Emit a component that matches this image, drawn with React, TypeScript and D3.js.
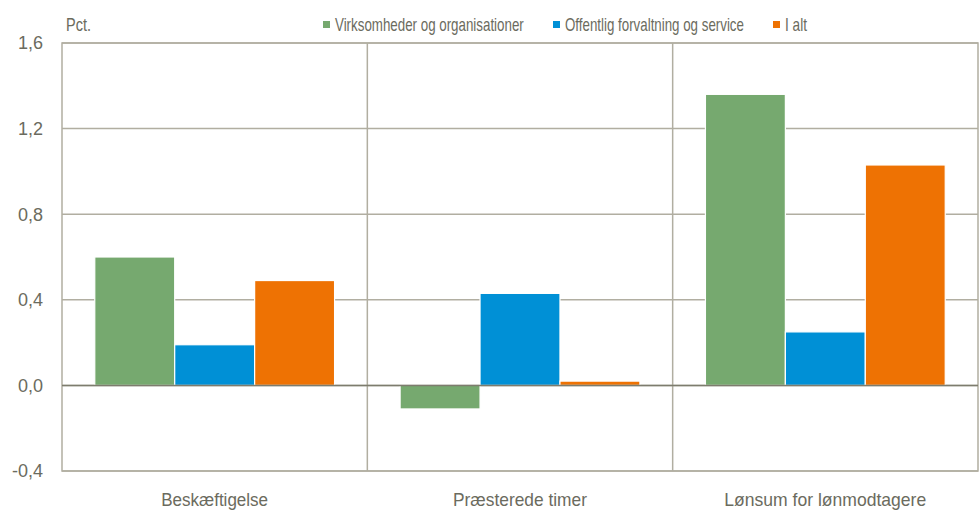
import React, { useEffect, useRef } from 'react';
import * as d3 from 'd3';

// data
const categories = ['Beskæftigelse', 'Præsterede timer', 'Lønsum for lønmodtagere'];
const seriesNames = ['Virksomheder og organisationer', 'Offentlig forvaltning og service', 'I alt'];
const virksomheder = [0.60, -0.11, 1.36];
const offentlig = [0.19, 0.43, 0.25];
const iAlt = [0.49, 0.02, 1.03];
const yTicks = [-0.4, 0, 0.4, 0.8, 1.2, 1.6];
const colors = ['#76a96f', '#0090d6', '#ee7203'];

// the original font is a narrow one, so widths are squeezed to fit
const catWidths = [107, 134, 202];
const legendWidths = [189, 179, 22];

const W = 979;
const H = 520;
const FONT = '"Liberation Sans Narrow", "Arial Narrow", "Liberation Sans", sans-serif';
const TEXT = '#6b6b5e';
const GRID = '#b1aea1';

// squeeze a text (anchored at its left x) horizontally to a given width
function squeeze(node: SVGTextElement, x0: number, width: number) {
  const w = node.getComputedTextLength();
  const k = w > 0 ? width / w : 1;
  node.setAttribute('transform', `translate(${x0},0) scale(${k},1)`);
}

function App() {
  const ref = useRef<SVGSVGElement>(null);

  useEffect(() => {
    const svg = d3.select(ref.current);
    svg.selectAll('*').remove();

    const left = 62, right = 978, top = 43, bottom = 471;
    const values = [virksomheder, offentlig, iAlt];

    const x = d3.scaleBand().domain(categories).range([left, right]).padding(0);
    const xs = d3.scaleBand().domain(seriesNames).range([0, x.bandwidth()])
      .paddingInner(0).paddingOuter(0.41);
    const y = d3.scaleLinear().domain([-0.4, 1.6]).range([bottom, top]);

    // horizontal grid
    svg.append('g').selectAll('line')
      .data(yTicks)
      .enter().append('line')
      .attr('x1', left).attr('x2', right)
      .attr('y1', d => y(d)).attr('y2', d => y(d))
      .attr('stroke', GRID).attr('stroke-width', 1.5);

    // vertical separators
    svg.append('g').selectAll('line')
      .data(categories.slice(1))
      .enter().append('line')
      .attr('x1', d => x(d)!).attr('x2', d => x(d)!)
      .attr('y1', top).attr('y2', bottom)
      .attr('stroke', GRID).attr('stroke-width', 1.5);

    // frame
    svg.append('rect')
      .attr('x', left).attr('y', top)
      .attr('width', right - left).attr('height', bottom - top)
      .attr('fill', 'none').attr('stroke', GRID).attr('stroke-width', 1.5);

    // bars
    seriesNames.forEach((s, si) => {
      svg.append('g').selectAll('rect')
        .data(categories)
        .enter().append('rect')
        .attr('x', (c) => x(c)! + xs(s)!)
        .attr('width', xs.bandwidth())
        .attr('y', (c, i) => y(Math.max(0, values[si][i])))
        .attr('height', (c, i) => Math.abs(y(values[si][i]) - y(0)))
        .attr('fill', colors[si])
        .attr('stroke', '#fff').attr('stroke-width', 1.2);
    });

    // zero line
    svg.append('line')
      .attr('x1', left).attr('x2', right)
      .attr('y1', y(0)).attr('y2', y(0))
      .attr('stroke', '#7d7c6e').attr('stroke-width', 1.5);

    // y tick labels
    svg.append('g').selectAll('text')
      .data(yTicks)
      .enter().append('text')
      .attr('x', 43).attr('y', d => y(d))
      .attr('dy', '0.35em')
      .attr('text-anchor', 'end')
      .attr('font-family', FONT).attr('font-size', 18).attr('fill', TEXT)
      .text(d => d3.format('.1f')(d).replace('.', ',').replace('\u2212', '-'));

    // category labels
    svg.append('g').selectAll('text')
      .data(categories)
      .enter().append('text')
      .attr('x', 0).attr('y', 506)
      .attr('font-family', FONT).attr('font-size', 19).attr('fill', TEXT)
      .text(d => d)
      .each(function (d, i) {
        squeeze(this as SVGTextElement, x(d)! + x.bandwidth() / 2 - catWidths[i] / 2, catWidths[i]);
      });

    // unit
    svg.append('text')
      .attr('x', 0).attr('y', 31)
      .attr('font-family', FONT).attr('font-size', 18).attr('fill', TEXT)
      .text('Pct.')
      .each(function () { squeeze(this as SVGTextElement, 66, 25); });

    // legend
    const legendX = [323, 553, 773];
    const lg = svg.append('g').selectAll('g')
      .data(seriesNames)
      .enter().append('g')
      .attr('transform', (d, i) => `translate(${legendX[i]},0)`);
    lg.append('rect')
      .attr('x', 0).attr('y', 21).attr('width', 7).attr('height', 7)
      .attr('fill', (d, i) => colors[i]);
    lg.append('text')
      .attr('x', 0).attr('y', 31)
      .attr('font-family', FONT).attr('font-size', 18).attr('fill', TEXT)
      .text(d => d)
      .each(function (d, i) { squeeze(this as SVGTextElement, 12, legendWidths[i]); });
  }, []);

  return (
    <svg ref={ref} width={W} height={H}
      style={{ position: 'absolute', left: 0, top: 0, background: '#fff' }} />
  );
}

export default App;
